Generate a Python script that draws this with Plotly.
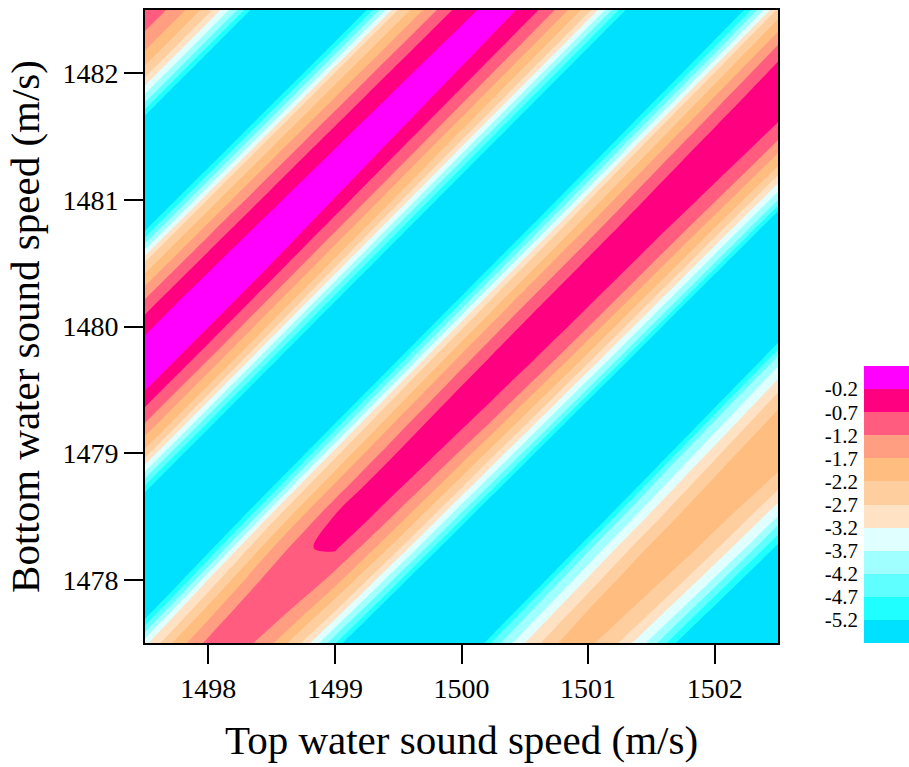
import plotly.graph_objects as go

# Grid of the surface (m/s)
top_speed = [1497.5, 1497.75, 1498.0, 1498.25, 1498.5, 1498.75, 1499.0, 1499.25, 1499.5, 1499.75,
             1500.0, 1500.25, 1500.5, 1500.75, 1501.0, 1501.25, 1501.5, 1501.75, 1502.0, 1502.25, 1502.5]
bottom_speed = [1477.5, 1477.75, 1478.0, 1478.25, 1478.5, 1478.75, 1479.0, 1479.25, 1479.5, 1479.75,
                1480.0, 1480.25, 1480.5, 1480.75, 1481.0, 1481.25, 1481.5, 1481.75, 1482.0, 1482.25, 1482.5]

# values, one row per bottom speed (bottom to top)
row_1477_50 = [-3.35, -2.02, -1.04, -0.89, -1.62, -2.79, -4.64, -7, -7, -7, -7.00, -4.51, -3.20, -2.21, -2.05, -2.74, -3.90, -5.58, -7, -7, -7]
row_1477_75 = [-5.78, -3.28, -1.95, -0.96, -0.81, -1.54, -2.70, -4.55, -7, -7, -7, -6.95, -4.46, -3.15, -2.16, -2.00, -2.69, -3.85, -5.52, -7, -7]
row_1478_00 = [-7, -5.69, -3.18, -1.85, -0.86, -0.70, -1.43, -2.63, -4.51, -7, -7, -7, -6.90, -4.41, -3.10, -2.11, -1.95, -2.63, -3.79, -5.47, -7]
row_1478_25 = [-7, -7, -5.58, -3.07, -1.73, -0.74, -0.62, -1.38, -2.57, -4.45, -7, -7, -7, -6.85, -4.36, -3.05, -2.05, -1.89, -2.58, -3.74, -5.42]
row_1478_50 = [-7, -7, -7, -5.49, -2.98, -1.66, -0.66, -0.58, -1.35, -2.55, -4.43, -7, -7, -7, -6.83, -4.33, -3.02, -2.03, -1.87, -2.56, -3.72]
row_1478_75 = [-4.66, -7, -7, -7, -5.43, -2.95, -1.64, -0.66, -0.56, -1.32, -2.51, -4.39, -7, -7, -7, -6.76, -4.27, -2.96, -1.97, -1.81, -2.50]
row_1479_00 = [-2.37, -4.66, -7, -7, -7, -5.40, -2.92, -1.62, -0.65, -0.53, -1.29, -2.49, -4.36, -7, -7, -7, -6.70, -4.21, -2.90, -1.91, -1.75]
row_1479_25 = [-1.14, -2.37, -4.66, -7, -7, -7, -5.37, -2.89, -1.58, -0.62, -0.50, -1.25, -2.45, -4.33, -7, -7, -7, -6.64, -4.15, -2.84, -1.85]
row_1479_50 = [-0.18, -1.14, -2.37, -4.66, -7, -7, -7, -5.34, -2.86, -1.56, -0.59, -0.47, -1.23, -2.42, -4.30, -7, -7, -7, -6.58, -4.09, -2.78]
row_1479_75 = [0.09, -0.18, -1.14, -2.37, -4.67, -7, -7, -7, -5.32, -2.83, -1.53, -0.57, -0.44, -1.20, -2.39, -4.27, -7, -7, -7, -6.52, -4.03]
row_1480_00 = [-0.31, 0.09, -0.18, -1.15, -2.38, -4.68, -7, -7, -7, -5.30, -2.82, -1.51, -0.55, -0.42, -1.18, -2.37, -4.25, -7, -7, -7, -6.45]
row_1480_25 = [-1.34, -0.31, 0.09, -0.19, -1.16, -2.39, -4.69, -7, -7, -7, -5.29, -2.81, -1.50, -0.54, -0.41, -1.17, -2.36, -4.24, -7, -7, -7]
row_1480_50 = [-2.60, -1.35, -0.32, 0.08, -0.20, -1.17, -2.40, -4.70, -7, -7, -7, -5.28, -2.80, -1.49, -0.53, -0.40, -1.16, -2.35, -4.23, -7, -7]
row_1480_75 = [-5.15, -2.61, -1.36, -0.33, 0.07, -0.21, -1.18, -2.41, -4.71, -7, -7, -7, -5.27, -2.79, -1.48, -0.52, -0.39, -1.15, -2.34, -4.22, -7]
row_1481_00 = [-7, -5.16, -2.62, -1.37, -0.34, 0.06, -0.22, -1.19, -2.42, -4.72, -7, -7, -7, -5.24, -2.76, -1.45, -0.49, -0.36, -1.12, -2.31, -4.19]
row_1481_25 = [-7, -7, -5.17, -2.63, -1.38, -0.35, 0.05, -0.23, -1.20, -2.43, -4.73, -7, -7, -7, -5.21, -2.73, -1.42, -0.46, -0.33, -1.09, -2.28]
row_1481_50 = [-6.86, -7, -7, -5.18, -2.64, -1.39, -0.36, 0.04, -0.24, -1.21, -2.44, -4.74, -7, -7, -7, -5.18, -2.70, -1.39, -0.43, -0.30, -1.06]
row_1481_75 = [-4.37, -6.86, -7, -7, -5.19, -2.65, -1.40, -0.37, 0.03, -0.25, -1.22, -2.45, -4.75, -7, -7, -7, -5.15, -2.67, -1.36, -0.40, -0.27]
row_1482_00 = [-2.47, -4.37, -6.86, -7, -7, -5.20, -2.66, -1.41, -0.38, 0.02, -0.26, -1.23, -2.46, -4.76, -7, -7, -7, -5.12, -2.64, -1.33, -0.36]
row_1482_25 = [-1.40, -2.47, -4.37, -6.86, -7, -7, -5.21, -2.67, -1.42, -0.39, 0.01, -0.27, -1.24, -2.47, -4.77, -7, -7, -7, -5.09, -2.60, -1.30]
row_1482_50 = [-0.80, -1.40, -2.47, -4.37, -6.86, -7, -7, -5.22, -2.68, -1.43, -0.40, 0.00, -0.28, -1.25, -2.48, -4.78, -7, -7, -7, -5.06, -2.57]

surface = [row_1477_50, row_1477_75, row_1478_00, row_1478_25, row_1478_50, row_1478_75,
           row_1479_00, row_1479_25, row_1479_50, row_1479_75, row_1480_00, row_1480_25,
           row_1480_50, row_1480_75, row_1481_00, row_1481_25, row_1481_50, row_1481_75,
           row_1482_00, row_1482_25, row_1482_50]

# contour levels and band colours (lowest band first)
levels = [-5.2, -4.7, -4.2, -3.7, -3.2, -2.7, -2.2, -1.7, -1.2, -0.7, -0.2]
level_labels = ["-5.2", "-4.7", "-4.2", "-3.7", "-3.2", "-2.7", "-2.2", "-1.7", "-1.2", "-0.7", "-0.2"]
band_colors = ["#00E0FF", "#20FFFF", "#60FFFF", "#A0FFFF", "#E0FFFF", "#FFE1C3",
               "#FFCE9E", "#FFBE80", "#FF9E80", "#FF5C80", "#FF0080", "#FF00FF"]

x_ticks = [1498, 1499, 1500, 1501, 1502]
y_ticks = [1478, 1479, 1480, 1481, 1482]

n = len(band_colors)
cscale = [[k / (n - 1), c] for k, c in enumerate(band_colors)]
step = round(levels[1] - levels[0], 6)

fig = go.Figure()
fig.add_trace(go.Contour(
    x=top_speed, y=bottom_speed, z=surface,
    colorscale=cscale, showscale=False,
    contours=dict(start=levels[0], end=levels[-1], size=step,
                  coloring="fill", showlines=False),
    line=dict(width=0), hoverinfo="skip"))

# discrete colour key drawn as a one-column heatmap
key_y = [levels[0] - step / 2] + [lv + step / 2 for lv in levels]
fig.add_trace(go.Heatmap(
    x=[0], y=key_y, z=[[k] for k in range(n)],
    colorscale=cscale, zmin=0, zmax=n - 1, showscale=False,
    xaxis="x2", yaxis="y2", hoverinfo="skip"))

L, R, T, B = 145, 0, 10, 124
W, H = 909, 767
pw = W - L - R
ph = H - T - B

fig.update_layout(
    width=W, height=H,
    margin=dict(l=L, r=R, t=T, b=B, pad=0),
    paper_bgcolor="white", plot_bgcolor="white",
    font=dict(family="Liberation Serif", color="black"),
    showlegend=False,
    xaxis=dict(domain=[0, 633 / pw], range=[1497.5, 1502.5], tickvals=x_ticks,
               ticks="outside", ticklen=19, tickwidth=2, tickcolor="black",
               showline=True, linewidth=2, linecolor="black", mirror=True,
               showgrid=False, zeroline=False, tickfont=dict(size=28), automargin=False,
               title=dict(text="Top water sound speed (m/s)", font=dict(size=41), standoff=23)),
    yaxis=dict(domain=[0, 1], range=[1477.5, 1482.5], tickvals=y_ticks,
               ticks="outside", ticklen=19, tickwidth=2, tickcolor="black",
               showline=True, linewidth=2, linecolor="black", mirror=True,
               showgrid=False, zeroline=False, tickfont=dict(size=28), automargin=False,
               title=dict(text="Bottom water sound speed (m/s)", font=dict(size=41), standoff=10)),
    xaxis2=dict(domain=[(864 - L) / pw, 1], range=[-0.5, 0.5], visible=False, anchor="y2"),
    yaxis2=dict(domain=[0, 277 / ph], range=[levels[0] - step, levels[-1] + step],
                anchor="x2", side="left", tickvals=levels, ticktext=level_labels,
                ticks="", showline=False, showgrid=False, zeroline=False,
                ticklabelstandoff=5, tickfont=dict(size=21), automargin=False),
)

fig.write_html("out.html", config={"displayModeBar": False, "staticPlot": True},
               post_script="document.body.style.margin='0px';document.body.style.overflow='hidden';")
